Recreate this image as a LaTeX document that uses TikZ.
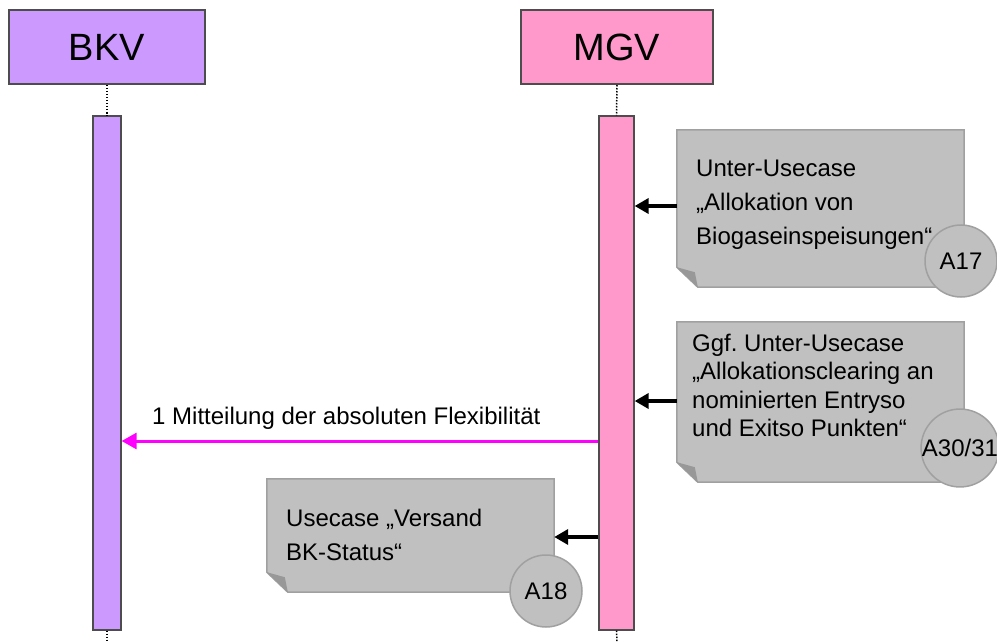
\documentclass[tikz,border=0pt]{standalone}
\usepackage{fontspec}
\setmainfont{Liberation Sans}
\usetikzlibrary{arrows.meta}
\definecolor{bkvc}{HTML}{CC99FF}
\definecolor{mgvc}{HTML}{FF99CC}
\definecolor{notefill}{HTML}{C0C0C0}
\definecolor{noteedge}{HTML}{A0A0A0}
\definecolor{flapc}{HTML}{989898}
\definecolor{framec}{HTML}{4D4D4D}
\definecolor{msgc}{HTML}{FF00FF}
\newcommand{\drawnote}[1]{%
  \filldraw[notestyle] (#1.north west) -- (#1.north east) -- (#1.south east)
    -- ([xshift=21pt]#1.south west) -- ([yshift=20pt]#1.south west) -- cycle;
  \fill[flapc] ([yshift=20pt]#1.south west) -- ([xshift=18pt,yshift=15pt]#1.south west)
    -- ([xshift=21pt]#1.south west) -- cycle;}
\frenchspacing
\begin{document}
\begin{tikzpicture}[x=1pt,y=-1pt,
  head/.style={draw=framec,line width=2pt,minimum width=194pt,minimum height=74pt,
    inner sep=0pt,font=\fontsize{38}{40}\selectfont},
  bar/.style={draw=framec,line width=1.3pt,inner sep=0pt,minimum height=514pt},
  lifeline/.style={line width=1.5pt,dash pattern=on 1.5pt off 1.5pt},
  notebox/.style={inner sep=0pt,draw=none},
  notestyle/.style={fill=notefill,draw=noteedge,line width=1.5pt},
  notetext/.style={inner sep=0pt,align=left,anchor=north west,font=\fontsize{24}{34}\selectfont},
  circ/.style={circle,fill=notefill,draw=noteedge,line width=1.5pt,minimum size=72pt,
    inner sep=0pt,font=\fontsize{24}{26}\selectfont},
  callarrow/.style={line width=3.5pt,-{Triangle[length=14pt,width=15pt]}},
  msgarrow/.style={draw=msgc,line width=3pt,-{Triangle[length=15pt,width=16pt]}},
  msglabel/.style={inner sep=0pt,font=\fontsize{24}{26}\selectfont}]
\useasboundingbox (0,0) rectangle (997,642);
% heads
\node[head,fill=bkvc,minimum width=196pt] (bkv) at (107,47) {BKV};
\node[head,fill=mgvc,minimum width=192pt] (mgv) at (617,47) {MGV};
% activation bars
\node[bar,fill=bkvc,minimum width=28pt] (bbar) at (107,373) {};
\node[bar,fill=mgvc,minimum width=35pt] (mbar) at (616.5,373) {};
\coordinate (bend) at (107,642);
\coordinate (mend) at (617,642);
\draw[lifeline] (bkv.south) -- (bbar.north);
\draw[lifeline] (bbar.south) -- (bend);
\draw[lifeline] (mgv.south) -- (mbar.north);
\draw[lifeline] (mbar.south) -- (mend);
% notes
\node[notebox,minimum width=287pt,minimum height=157pt] (n1) at (820.5,208.5) {};
\node[notebox,minimum width=287pt,minimum height=160pt] (n2) at (820.5,402) {};
\node[notebox,minimum width=287pt,minimum height=113pt] (n3) at (410.5,535.5) {};
\drawnote{n1}
\drawnote{n2}
\drawnote{n3}
\node[notetext] (t1) at (696,160) {Unter-Usecase\\„Allokation von\\Biogaseinspeisungen“};
\node[notetext,font=\fontsize{24}{28.5}\selectfont] (t2) at (692,333.5) {Ggf. Unter-Usecase\\„Allokationsclearing an\\nominierten Entryso\\und Exitso Punkten“};
\node[notetext] (t3) at (286,509) {Usecase „Versand\\BK-Status“};
% reference circles
\node[circ] (c1) at (961,261) {A17};
\node[circ] (c2) at (960,448) {A30/31};
\node[circ] (c3) at (546,591) {A18};
% arrows
\coordinate (y1) at (0,206);
\coordinate (y2) at (0,401);
\coordinate (y3) at (0,537);
\coordinate (y4) at (0,441);
\draw[callarrow] (n1.west |- y1) -- (mbar.east |- y1);
\draw[callarrow] (n2.west |- y2) -- (mbar.east |- y2);
\draw[callarrow] (mbar.west |- y3) -- (n3.east |- y3);
\draw[msgarrow] (mbar.west |- y4) -- (bbar.east |- y4);
\node[msglabel,anchor=base west] (lbl) at (152,424) {1 Mitteilung der absoluten Flexibilität};
\end{tikzpicture}
\end{document}
